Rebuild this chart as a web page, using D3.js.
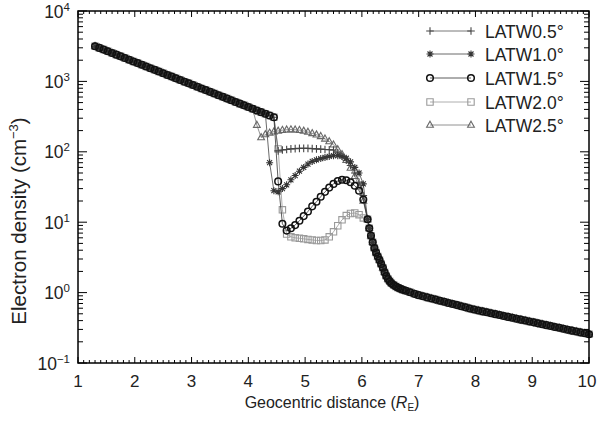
<!DOCTYPE html>
<html>
<head>
<meta charset="utf-8">
<script src="https://cdn.jsdelivr.net/npm/d3@7"></script>
<style>
  html, body { margin: 0; padding: 0; background: #fff; }
  svg { display: block; font-family: "Liberation Sans", Arial, Helvetica, sans-serif; }
</style>
</head>
<body>
<svg id="chart" width="597" height="421"></svg>
<script>
// ---------------- DATA ----------------
// inner sampling grid: geocentric distance from 1.3 R_E in steps of 0.075 R_E
const distanceStart = 1.3;
const distanceStep = 0.075;

// shared inner plasmasphere trunk (1.3 .. 4.075 R_E)
const trunk = [3160, 2990, 2830, 2680, 2535, 2400, 2270, 2150, 2030, 1920,
  1820, 1720, 1630, 1540, 1460, 1380, 1305, 1235, 1170, 1105,
  1047, 991, 938, 887, 839, 794, 752, 711, 673, 637,
  603, 570, 540, 511, 483, 457, 433, 409];

// individual sections (4.15 .. 6.025 R_E)
const latw05 = [387, 366, 347, 328, 310, 103, 106, 108, 110, 111, 112, 112, 112,
  111, 110, 109, 108, 107, 106, 97, 87, 76, 64, 50, 37, 24];
const latw10 = [387, 366, 347, 70, 28, 27, 30, 34, 40, 46, 53, 60, 67,
  73, 77, 80, 83, 86, 88, 88, 86, 81, 72, 60, 50, 35];
const latw15 = [387, 366, 347, 328, 310, 38, 9.5, 7.6, 8.2, 9.1, 10.5, 12.2, 14.2,
  16.8, 19.5, 23, 27, 31, 35, 38.5, 40, 39.5, 37, 33, 28, 21];
const latw20 = [387, 366, 347, 328, 310, 110, 15, 6.8, 6.2, 6.0, 5.9, 5.8, 5.7,
  5.6, 5.5, 5.5, 5.6, 6.2, 7.3, 8.9, 10.8, 12.4, 13.3, 13.5, 12.8, 11.5];
const latw25 = [240, 160, 176, 186, 193, 198, 203, 206, 207, 206, 203, 198, 191,
  183, 175, 166, 153, 140, 126, 108, 92, 76, 59, 45, 32, 20];

// shared plasmapause drop (explicit distances)
const steepDistance = [6.1, 6.13, 6.16, 6.19, 6.22, 6.25, 6.28, 6.31, 6.34, 6.37,
  6.4, 6.43, 6.46, 6.49, 6.52, 6.56, 6.6, 6.64, 6.68, 6.72];
const steepValues = [11, 8.2, 6.4, 5.2, 4.3, 3.7, 3.25, 2.9, 2.55, 2.25,
  1.95, 1.72, 1.56, 1.45, 1.36, 1.28, 1.22, 1.17, 1.13, 1.10];

// shared outer tail (6.775 .. 10.0 R_E, step 0.075)
const farStart = 6.775;
const farTail = [1.06, 1.01, 0.96, 0.92,
  0.887, 0.855, 0.826, 0.796, 0.767, 0.740, 0.713, 0.688, 0.664, 0.640, 0.617, 0.595,
  0.574, 0.557, 0.541, 0.525, 0.509, 0.494, 0.480, 0.466, 0.452, 0.439, 0.426, 0.413,
  0.401, 0.389, 0.378, 0.366, 0.356, 0.345, 0.335, 0.325, 0.316, 0.306, 0.297, 0.288,
  0.280, 0.272, 0.264, 0.256];

const seriesNames = ["LATW0.5°", "LATW1.0°", "LATW1.5°", "LATW2.0°", "LATW2.5°"];
const seriesSections = [latw05, latw10, latw15, latw20, latw25];

const xTicks = [1, 2, 3, 4, 5, 6, 7, 8, 9, 10];
const yExponents = [4, 3, 2, 1, 0, -1];

// ---------------- LAYOUT ----------------
const L = 78, R = 589, T = 11, B = 363;
const svg = d3.select("#chart");
const x = d3.scaleLinear().domain([1, 10]).range([L, R]);
const y = d3.scaleLog().domain([0.1, 10000]).range([B, T]);

const styles = [
  { marker: "plus",     color: "#454545", line: "#555", sw: 1.1 },
  { marker: "asterisk", color: "#353535", line: "#444", sw: 1.1 },
  { marker: "circle",   color: "#111",    line: "#333", sw: 1.5 },
  { marker: "square",   color: "#9a9a9a", line: "#999", sw: 1.1 },
  { marker: "triangle", color: "#686868", line: "#777", sw: 1.1 }
];

function markerPath(type) {
  switch (type) {
    case "plus": return "M-3.8,0H3.8M0,-3.8V3.8";
    case "asterisk": return "M-3.5,0H3.5M0,-3.5V3.5M-2.5,-2.5L2.5,2.5M-2.5,2.5L2.5,-2.5";
    case "circle": return "M3.3,0A3.3,3.3 0 1,1 -3.3,0A3.3,3.3 0 1,1 3.3,0Z";
    case "square": return "M-3.2,-3.2H3.2V3.2H-3.2Z";
    case "triangle": return "M0,-3.8L3.4,2.3H-3.4Z";
  }
}

const series = seriesSections.map((sec, i) => {
  const inner = trunk.concat(sec).map((v, k) => ({ x: distanceStart + distanceStep * k, v }));
  const steep = steepValues.map((v, k) => ({ x: steepDistance[k], v }));
  const far = farTail.map((v, k) => ({ x: farStart + distanceStep * k, v }));
  return { name: seriesNames[i], style: styles[i], points: inner.concat(steep, far) };
});

const line = d3.line().x(d => x(d.x)).y(d => y(d.v));

// draw order: light series first, circles on top
const order = [3, 4, 0, 1, 2];
const plot = svg.append("g");
order.forEach(i => {
  const s = series[i];
  const g = plot.append("g");
  g.append("path").attr("d", line(s.points)).attr("fill", "none")
    .attr("stroke", s.style.line).attr("stroke-width", 0.8);
  g.selectAll("path.m").data(s.points).enter().append("path").attr("class", "m")
    .attr("d", markerPath(s.style.marker))
    .attr("transform", d => `translate(${x(d.x)},${y(d.v)})`)
    .attr("fill", "none").attr("stroke", s.style.color)
    .attr("stroke-width", s.style.sw);
});

// ---------------- AXES ----------------
const axisG = svg.append("g");
const xMinor = d3.range(10, 101).map(d => ({ v: d / 10, major: d % 10 === 0 }));
function drawXTicks(yBase, dir) {
  axisG.selectAll(null).data(xMinor).enter().append("line")
    .attr("x1", d => x(d.v)).attr("x2", d => x(d.v))
    .attr("y1", yBase).attr("y2", d => yBase + dir * (d.major ? 6 : 3))
    .attr("stroke", "#000").attr("stroke-width", 1);
}
drawXTicks(B, -1);
drawXTicks(T, 1);

const yMinor = [];
for (let e = -1; e < 4; e++) for (let m = 1; m <= 9; m++) yMinor.push({ v: m * Math.pow(10, e), major: m === 1 });
yMinor.push({ v: 10000, major: true });
function drawYTicks(xBase, dir) {
  axisG.selectAll(null).data(yMinor).enter().append("line")
    .attr("y1", d => y(d.v)).attr("y2", d => y(d.v))
    .attr("x1", xBase).attr("x2", d => xBase + dir * (d.major ? 9 : 5))
    .attr("stroke", "#000").attr("stroke-width", 1);
}
drawYTicks(L, 1);
drawYTicks(R, -1);

axisG.append("rect").attr("x", L).attr("y", T).attr("width", R - L).attr("height", B - T)
  .attr("fill", "none").attr("stroke", "#000").attr("stroke-width", 1.5);

// x tick labels
svg.append("g").selectAll("text").data(xTicks).enter().append("text")
  .attr("x", d => d === 10 ? x(d) - 2 : x(d)).attr("y", 387).attr("text-anchor", "middle")
  .attr("font-size", 17).attr("fill", "#222").text(d => d);

// y tick labels 10^n
const yl = svg.append("g");
yExponents.forEach(e => {
  const t = yl.append("text").attr("x", 70).attr("y", y(Math.pow(10, e)) + 6.5)
    .attr("text-anchor", "end").attr("font-size", 17.5).attr("fill", "#222");
  t.append("tspan").text("10");
  t.append("tspan").attr("font-size", 11.5).attr("dy", -7).text(e < 0 ? "\u2212" + Math.abs(e) : e);
});

// axis titles
const xt = svg.append("text").attr("x", 332).attr("y", 408).attr("text-anchor", "middle")
  .attr("font-size", 16).attr("fill", "#222");
xt.append("tspan").text("Geocentric distance (");
xt.append("tspan").attr("font-style", "italic").text("R");
xt.append("tspan").attr("font-size", 10).attr("dy", 3).text("E");
xt.append("tspan").attr("dy", -3).text(")");

const yt = svg.append("text").attr("transform", "translate(26,221) rotate(-90)")
  .attr("text-anchor", "middle").attr("font-size", 20.5).attr("fill", "#222");
yt.append("tspan").text("Electron density (cm");
yt.append("tspan").attr("font-size", 13).attr("dy", -8).text("\u22123");
yt.append("tspan").attr("dy", 8).text(")");

// ---------------- LEGEND ----------------
const legendY = [31, 54, 78, 102, 125];
const leg = svg.append("g");
series.forEach((s, i) => {
  const g = leg.append("g").attr("transform", `translate(0,${legendY[i]})`);
  g.append("line").attr("x1", 430).attr("x2", 471).attr("y1", 0).attr("y2", 0)
    .attr("stroke", s.style.line).attr("stroke-width", 0.8);
  [430, 471].forEach(px => g.append("path").attr("d", markerPath(s.style.marker))
    .attr("transform", `translate(${px},0)`).attr("fill", "none")
    .attr("stroke", s.style.color).attr("stroke-width", s.style.sw));
  g.append("text").attr("x", 485).attr("y", 6.5).attr("font-size", 17.5)
    .attr("fill", "#222").text(s.name);
});
</script>
</body>
</html>
